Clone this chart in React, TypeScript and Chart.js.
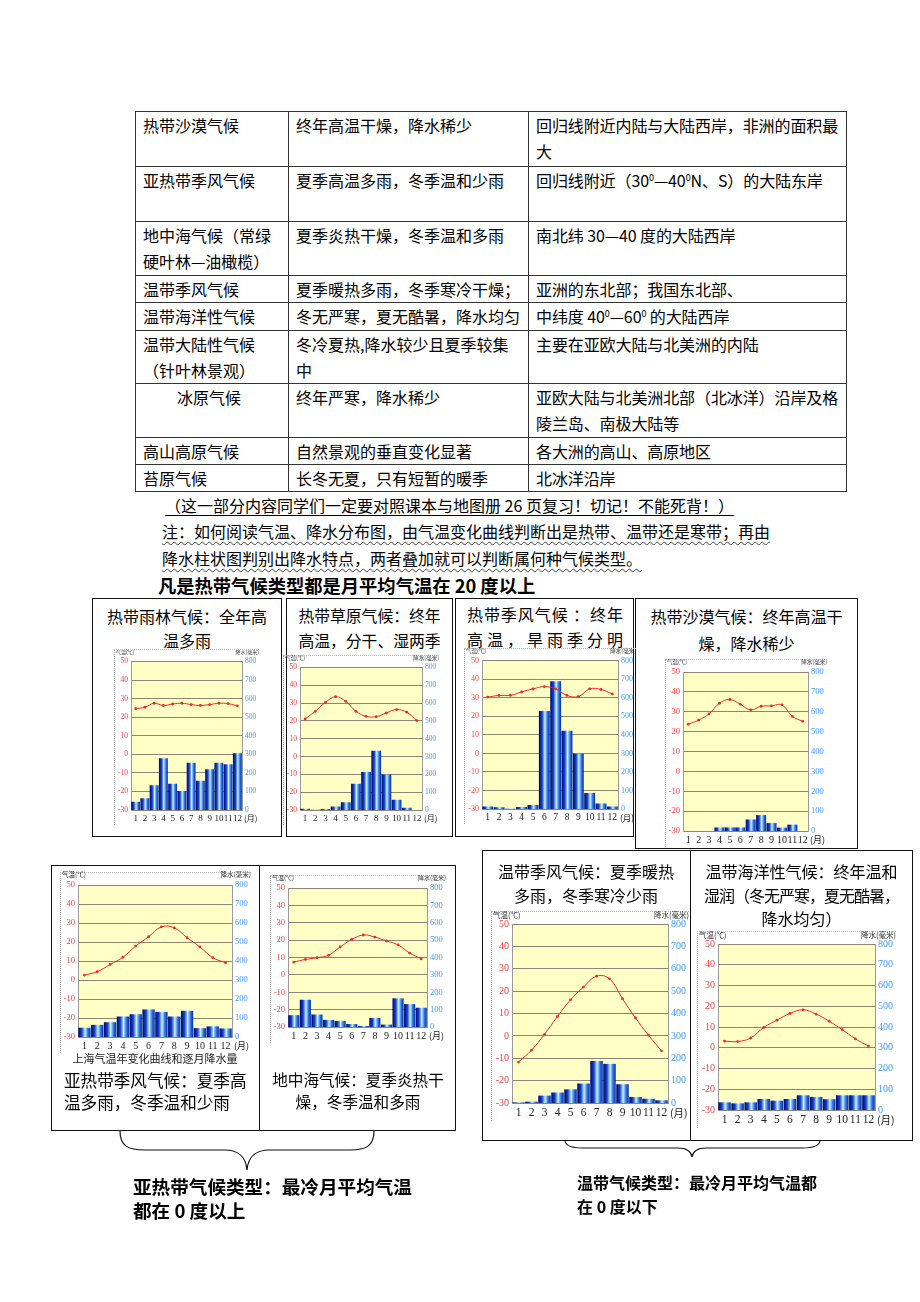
import React, { useEffect, useRef } from "react";
import { Chart, registerables } from "chart.js";
Chart.register(...registerables);

const MONTHS = ["1", "2", "3", "4", "5", "6", "7", "8", "9", "10", "11", "12"];

// 热带雨林气候
const rainforestTemp = [24.6, 25.4, 27.5, 26.3, 27.1, 27.5, 26.8, 26.3, 26.8, 27.5, 27.3, 26.1];
const rainforestPrecip = [45, 63, 133, 279, 142, 103, 255, 158, 219, 255, 246, 306];
// 热带草原气候
const savannaTemp = [21.1, 25.4, 30.4, 33.6, 31.0, 25.4, 22.6, 22.4, 24.5, 26.4, 24.9, 20.2];
const savannaPrecip = [7, 1, 5, 20, 43, 148, 213, 333, 200, 58, 13, 0];
// 热带季风气候
const monsoonTemp = [30.4, 31.3, 31.4, 33.2, 34.8, 36.1, 34.8, 31.3, 30.7, 34.8, 34.5, 32.1];
const monsoonPrecip = [14, 9, 2, 11, 21, 529, 689, 423, 298, 86, 30, 14];
// 热带沙漠气候
const desertTemp = [23.8, 25.8, 29.0, 34.3, 36.2, 33.8, 31.0, 32.8, 33.0, 33.5, 27.7, 25.2];
const desertPrecip = [0, 0, 0, 18, 18, 18, 58, 80, 40, 17, 32, 0];
// 亚热带季风气候（上海）
const shanghaiTemp = [2.6, 4.4, 8.2, 12.0, 17.9, 22.8, 28.0, 27.5, 22.3, 17.4, 11.8, 9.1];
const shanghaiPrecip = [49, 64, 78, 108, 120, 145, 132, 108, 138, 47, 56, 45];
// 地中海气候
const medTemp = [7.4, 8.9, 9.9, 11.3, 16.1, 20.4, 23.0, 21.8, 19.6, 17.3, 12.6, 9.3];
const medPrecip = [68, 157, 72, 41, 35, 17, 6, 52, 14, 165, 132, 111];
// 温带季风气候
const tempMonsoonTemp = [-11.7, -6.4, 0.7, 8.7, 16.1, 21.8, 26.7, 25.5, 16.6, 8.0, 0.3, -6.7];
const tempMonsoonPrecip = [3, 6, 33, 47, 61, 87, 188, 175, 84, 27, 19, 12];
// 温带海洋性气候
const oceanicTemp = [3.2, 3.0, 4.7, 9.8, 13.3, 16.5, 18.3, 16.2, 12.8, 8.7, 4.3, 0.8];
const oceanicPrecip = [37, 32, 37, 53, 45, 53, 71, 63, 52, 71, 71, 71];

const CJK = '"Noto Sans CJK SC", "Noto Sans", sans-serif';
const SERIF = '"Liberation Serif", "DejaVu Serif", serif';

const plotBg = {
  id: "plotBg",
  beforeDraw(chart: any) {
    const { ctx, chartArea: a } = chart;
    if (!a) return;
    ctx.save();
    ctx.fillStyle = "#FFFFC6";
    ctx.fillRect(a.left, a.top, a.width, a.height);
    ctx.restore();
  },
};

function barFill(c: any) {
  const chart = c.chart;
  const a = chart.chartArea;
  if (!a || c.dataIndex === undefined) return "#1f4fd0";
  const xs = chart.scales.x;
  const cx = xs.getPixelForValue(c.dataIndex);
  const w = (a.width / 12) * 0.96;
  const g = chart.ctx.createLinearGradient(cx - w / 2, 0, cx + w / 2, 0);
  g.addColorStop(0, "#000078");
  g.addColorStop(0.3, "#1448C8");
  g.addColorStop(0.55, "#CDEFFF");
  g.addColorStop(0.78, "#2A78E6");
  g.addColorStop(1, "#0A2C9C");
  return g;
}

type CCProps = { plot: number[]; temp: number[]; precip: number[]; fs: number; hfs: number };

function ClimateChart({ plot, temp, precip, fs, hfs }: CCProps) {
  const ref = useRef<HTMLCanvasElement | null>(null);
  const [L, T, R, B] = plot;
  const xfs = fs + 1.5;
  const AW = Math.round(fs * 1.45) + 5;
  const AW2 = Math.round(fs * 1.6) + 6;
  const PT = Math.ceil(fs * 0.7) + 1;
  const XH = Math.round(xfs * 1.3) + 3;
  const W = R - L + AW + AW2;
  const H = B - T + PT + XH;
  useEffect(() => {
    if (!ref.current) return;
    const chart = new Chart(ref.current, {
      type: "bar",
      data: {
        labels: MONTHS,
        datasets: [
          {
            type: "line",
            data: temp,
            yAxisID: "y",
            borderColor: "#F02828",
            borderWidth: 1,
            pointRadius: 1.4,
            pointBackgroundColor: "#F02828",
            pointBorderWidth: 0,
            tension: 0.4,
            order: 0,
          } as any,
          {
            type: "bar",
            data: precip,
            yAxisID: "y2",
            backgroundColor: barFill,
            borderWidth: 0,
            barPercentage: 0.96,
            categoryPercentage: 1,
            order: 1,
          } as any,
        ],
      },
      options: {
        animation: false,
        responsive: false,
        devicePixelRatio: 1,
        layout: { padding: { top: PT, left: 0, right: 0, bottom: 0 } },
        plugins: { legend: { display: false }, tooltip: { enabled: false } },
        scales: {
          x: {
            grid: { display: false, drawTicks: false },
            border: { display: false },
            ticks: { color: "#222", font: { size: xfs, family: SERIF }, padding: 3, maxRotation: 0, autoSkip: false },
            afterFit: (s: any) => {
              s.height = XH;
            },
          },
          y: {
            position: "left",
            min: -30,
            max: 50,
            ticks: { stepSize: 10, color: "#FF3B3B", font: { size: fs, family: SERIF }, padding: 3 },
            grid: { color: "#8E8374", lineWidth: 1, drawTicks: false },
            border: { color: "#9a9a9a" },
            afterFit: (s: any) => {
              s.width = AW;
            },
          },
          y2: {
            position: "right",
            min: 0,
            max: 800,
            ticks: { stepSize: 100, color: "#3D9BFF", font: { size: fs, family: SERIF }, padding: 3 },
            grid: { display: false, drawTicks: false },
            border: { color: "#9a9a9a" },
            afterFit: (s: any) => {
              s.width = AW2;
            },
          },
        },
      } as any,
      plugins: [plotBg],
    });
    return () => chart.destroy();
  }, []);
  const hcy = T - 9;
  return (
    <>
      <div style={{ position: "absolute", left: L - AW - 1, top: T - 12, width: 0, height: B - T + XH + 12, borderLeft: "1px dotted #aaa" }} />
      <div style={{ position: "absolute", left: L - AW - 1, top: T - 12, width: R - L + AW + AW2, height: 0, borderTop: "1px dotted #bbb" }} />
      <canvas
        ref={ref}
        width={W}
        height={H}
        style={{ position: "absolute", left: L - AW, top: T - PT, width: W, height: H }}
      />
      <div style={{ position: "absolute", left: L - AW + 1, top: hcy - hfs * 0.6, fontSize: hfs, lineHeight: hfs * 1.2 + "px", color: "#333", fontFamily: CJK, whiteSpace: "nowrap" }}>
        气温(℃)
      </div>
      <div style={{ position: "absolute", left: R - 80, width: 80 + AW2 - 1, textAlign: "right", top: hcy - hfs * 0.6, fontSize: hfs, lineHeight: hfs * 1.2 + "px", color: "#333", fontFamily: CJK, whiteSpace: "nowrap" }}>
        降水(毫米)
      </div>
      <div style={{ position: "absolute", left: R + 2, top: B + 3, fontSize: xfs - 1, lineHeight: xfs * 1.2 + "px", color: "#222", fontFamily: CJK, whiteSpace: "nowrap" }}>
        (月)
      </div>
    </>
  );
}

type TxtProps = { x: number; cy: number; s: number; w?: number; align?: any; bold?: boolean; children?: any; style?: any };
function Txt({ x, cy, s, w, align, bold, children, style }: TxtProps) {
  const lh = Math.round(s * 1.4);
  return (
    <div
      style={{
        position: "absolute",
        left: x,
        top: cy - lh / 2,
        width: w,
        textAlign: align,
        fontSize: s,
        lineHeight: lh + "px",
        fontWeight: bold ? 700 : 400,
        whiteSpace: "nowrap",
        fontFamily: CJK,
        color: "#000",
        ...style,
      }}
    >
      {children}
    </div>
  );
}

function Box({ l, t, w, h }: { l: number; t: number; w: number; h: number }) {
  return <div style={{ position: "absolute", left: l, top: t, width: w, height: h, border: "1.5px solid #111", boxSizing: "border-box" }} />;
}

function VLine({ x, t, b }: { x: number; t: number; b: number }) {
  return <div style={{ position: "absolute", left: x, top: t, width: 0, height: b - t, borderLeft: "1.5px solid #111" }} />;
}

const sup = (t: string) => <span style={{ fontSize: 9, verticalAlign: "6px", lineHeight: "0" }}>{t}</span>;

function ClimateTable() {
  const td: any = { border: "1px solid #333", padding: "0 6px 0 7px", verticalAlign: "top", whiteSpace: "nowrap", overflow: "hidden" };
  const rows: [number, any, any, any][] = [
    [55, <>热带沙漠气候</>, <>终年高温干燥，降水稀少</>, <>回归线附近内陆与大陆西岸，非洲的面积最<br />大</>],
    [55, <>亚热带季风气候</>, <>夏季高温多雨，冬季温和少雨</>, <>回归线附近（30{sup("0")}—40{sup("0")}N、S）的大陆东岸</>],
    [54, <>地中海气候（常绿<br />硬叶林—油橄榄）</>, <>夏季炎热干燥，冬季温和多雨</>, <>南北纬 30—40 度的大陆西岸</>],
    [27, <>温带季风气候</>, <>夏季暖热多雨，冬季寒冷干燥；</>, <>亚洲的东北部；我国东北部、</>],
    [28, <>温带海洋性气候</>, <>冬无严寒，夏无酷暑，降水均匀</>, <>中纬度 40{sup("0")}—60{sup("0")} 的大陆西岸</>],
    [53, <>温带大陆性气候<br />（针叶林景观）</>, <>冬冷夏热,降水较少且夏季较集<br />中</>, <>主要在亚欧大陆与北美洲的内陆</>],
    [54, <span style={{ paddingLeft: 34 }}>冰原气候</span>, <>终年严寒，降水稀少</>, <>亚欧大陆与北美洲北部（北冰洋）沿岸及格<br />陵兰岛、南极大陆等</>],
    [27, <>高山高原气候</>, <>自然景观的垂直变化显著</>, <>各大洲的高山、高原地区</>],
    [27, <>苔原气候</>, <>长冬无夏，只有短暂的暖季</>, <>北冰洋沿岸</>],
  ];
  return (
    <table
      style={{
        position: "absolute",
        left: 135,
        top: 111,
        width: 711,
        borderCollapse: "collapse",
        tableLayout: "fixed",
        fontSize: 16,
        lineHeight: "26px",
        fontFamily: CJK,
        color: "#000",
      }}
    >
      <colgroup>
        <col style={{ width: 153 }} />
        <col style={{ width: 240 }} />
        <col style={{ width: 318 }} />
      </colgroup>
      <tbody>
        {rows.map((r, i) => (
          <tr key={i} style={{ height: r[0] }}>
            <td style={td}>{r[1]}</td>
            <td style={td}>{r[2]}</td>
            <td style={{ ...td, letterSpacing: -0.1 }}>{r[3]}</td>
          </tr>
        ))}
      </tbody>
    </table>
  );
}

export default function App() {
  return (
    <div style={{ position: "absolute", left: 0, top: 0, width: 920, height: 1302, background: "#fff", fontFamily: CJK, color: "#000", overflow: "hidden" }}>
      <ClimateTable />

      <Txt x={165} cy={505} s={16} style={{ textDecoration: "underline", textUnderlineOffset: "3px" }}>
        （这一部分内容同学们一定要对照课本与地图册 26 页复习！切记！不能死背！）
      </Txt>
      <Txt x={162} cy={531} s={16} style={{ textDecoration: "underline wavy #444", textDecorationThickness: "1px", textUnderlineOffset: "3px" }}>
        注：如何阅读气温、降水分布图，由气温变化曲线判断出是热带、温带还是寒带；再由
      </Txt>
      <Txt x={162} cy={558} s={16} style={{ textDecoration: "underline wavy #444", textDecorationThickness: "1px", textUnderlineOffset: "3px" }}>
        降水柱状图判别出降水特点，两者叠加就可以判断属何种气候类型。
      </Txt>
      <Txt x={158} cy={585} s={18.3} bold>
        凡是热带气候类型都是月平均气温在 20 度以上
      </Txt>

      {/* top row boxes */}
      <Box l={92} t={598} w={190} h={239} />
      <Box l={286} t={598} w={167} h={239} />
      <Box l={455} t={598} w={179} h={239} />
      <Box l={635} t={598} w={223} h={251} />

      <Txt x={92} w={190} align="center" cy={616} s={16}>热带雨林气候：全年高</Txt>
      <Txt x={92} w={190} align="center" cy={640} s={16}>温多雨</Txt>
      <Txt x={286} w={167} align="center" cy={616} s={15.8}>热带草原气候：终年</Txt>
      <Txt x={286} w={167} align="center" cy={641} s={15.8}>高温，分干、湿两季</Txt>
      <Txt x={467} w={156} cy={614} s={16} style={{ whiteSpace: "normal", textAlign: "justify", textAlignLast: "justify" }}>热带季风气候 ：终年</Txt>
      <Txt x={467} w={156} cy={639} s={16} style={{ whiteSpace: "normal", textAlign: "justify", textAlignLast: "justify" }}>高温，旱雨季分明</Txt>
      <Txt x={635} w={223} align="center" cy={616} s={16}>热带沙漠气候：终年高温干</Txt>
      <Txt x={635} w={223} align="center" cy={643} s={16}>燥，降水稀少</Txt>

      <ClimateChart plot={[131, 661, 242, 810]} temp={rainforestTemp} precip={rainforestPrecip} fs={7.5} hfs={5} />
      <ClimateChart plot={[300, 667, 422, 810]} temp={savannaTemp} precip={savannaPrecip} fs={7.5} hfs={5.5} />
      <ClimateChart plot={[482, 660, 618, 809]} temp={monsoonTemp} precip={monsoonPrecip} fs={8} hfs={5.5} />
      <ClimateChart plot={[683, 671, 808, 831]} temp={desertTemp} precip={desertPrecip} fs={8.5} hfs={5.5} />

      {/* bottom-left group */}
      <Box l={51} t={865} w={405} h={266} />
      <VLine x={259} t={865} b={1131} />
      <ClimateChart plot={[78, 884, 232, 1037]} temp={shanghaiTemp} precip={shanghaiPrecip} fs={8.5} hfs={6.5} />
      <ClimateChart plot={[288, 887, 427, 1027]} temp={medTemp} precip={medPrecip} fs={8.5} hfs={6} />
      <Txt x={60} w={190} align="center" cy={1058} s={11} style={{ color: "#222" }}>上海气温年变化曲线和逐月降水量</Txt>
      <Txt x={64} cy={1080} s={16.6}>亚热带季风气候：夏季高</Txt>
      <Txt x={64} cy={1102} s={16.6}>温多雨，冬季温和少雨</Txt>
      <Txt x={259} w={198} align="center" cy={1079} s={15.6}>地中海气候：夏季炎热干</Txt>
      <Txt x={259} w={198} align="center" cy={1101} s={15.6}>燥，冬季温和多雨</Txt>

      {/* bottom-right group */}
      <Box l={482} t={850} w={431} h={291} />
      <VLine x={690} t={850} b={1141} />
      <Txt x={482} w={208} align="center" cy={871} s={16}>温带季风气候：夏季暖热</Txt>
      <Txt x={482} w={208} align="center" cy={895} s={16}>多雨，冬季寒冷少雨</Txt>
      <Txt x={690} w={223} align="center" cy={871} s={16}>温带海洋性气候：终年温和</Txt>
      <Txt x={690} w={223} align="center" cy={895} s={16} style={{ letterSpacing: -1 }}>湿润（冬无严寒，夏无酷暑，</Txt>
      <Txt x={690} w={223} align="center" cy={918} s={16}>降水均匀）</Txt>
      <ClimateChart plot={[512, 923, 668, 1103]} temp={tempMonsoonTemp} precip={tempMonsoonPrecip} fs={10} hfs={7.5} />
      <ClimateChart plot={[718, 943, 875, 1110]} temp={oceanicTemp} precip={oceanicPrecip} fs={10} hfs={7.5} />

      {/* braces */}
      <svg style={{ position: "absolute", left: 0, top: 0 }} width={920} height={1302}>
        <path
          d="M120,1131 C120,1146 128,1150 145,1150 L225,1150 C238,1150 246,1157 247,1170 C248,1157 256,1150 269,1150 L350,1150 C366,1150 374,1146 374,1131"
          fill="none"
          stroke="#111"
          strokeWidth={1.2}
        />
        <path
          d="M565,1141 C566,1146 572,1148 582,1148 L678,1148 C686,1148 691,1151 692,1157 C693,1151 698,1148 706,1148 L803,1148 C813,1148 819,1146 820,1141"
          fill="none"
          stroke="#111"
          strokeWidth={1.2}
        />
      </svg>

      <Txt x={133} cy={1186} s={18.6} bold>亚热带气候类型：最冷月平均气温</Txt>
      <Txt x={133} cy={1210} s={18.6} bold>都在 0 度以上</Txt>
      <Txt x={577} cy={1182} s={16} bold>温带气候类型：最冷月平均气温都</Txt>
      <Txt x={577} cy={1206} s={16} bold>在 0 度以下</Txt>
    </div>
  );
}
